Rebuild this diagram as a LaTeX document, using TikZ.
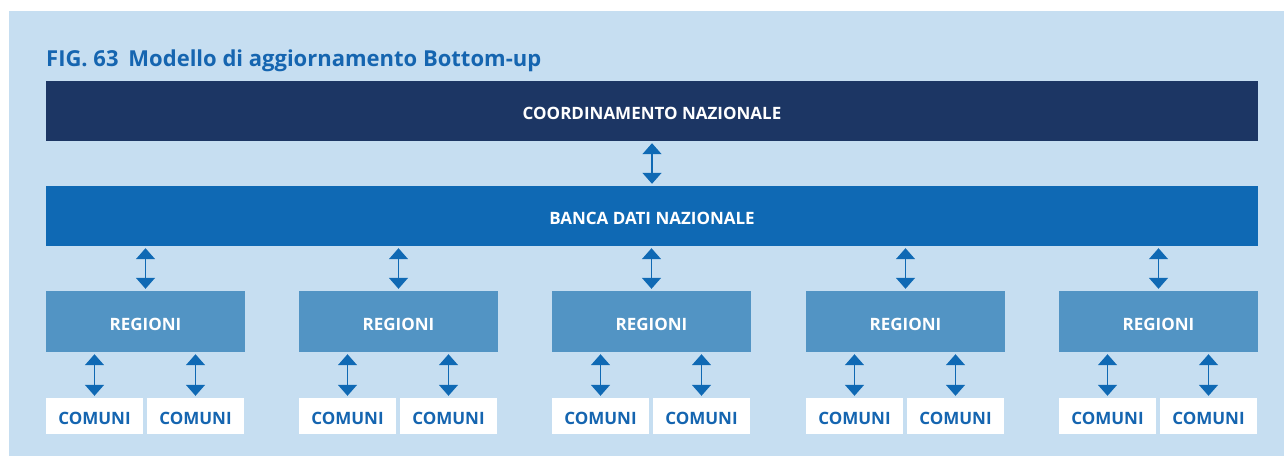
\documentclass[tikz,border=0pt]{standalone}
\usepackage{fontspec}
\setmainfont{Open Sans}
\usepackage{tikz}
\usetikzlibrary{arrows.meta, positioning}
\definecolor{bgblue}{RGB}{198,222,241}
\definecolor{navy}{RGB}{28,54,100}
\definecolor{midblue}{RGB}{15,105,180}
\definecolor{softblue}{RGB}{82,148,196}
\definecolor{titleblue}{RGB}{21,101,176}
\tikzset{
  boxtext/.style={inner sep=0pt, text height=17.5pt, text depth=0pt,
    font=\fontsize{17}{19}\selectfont\bfseries},
  bar/.style={rectangle, boxtext, minimum width=1212pt, minimum height=60pt, text=white},
  region/.style={rectangle, boxtext, fill=softblue, minimum width=199pt,
    minimum height=61pt, text=white},
  town/.style={rectangle, boxtext, fill=white, minimum width=97pt,
    minimum height=36pt, text=titleblue},
  link/.style={{Triangle[width=19pt, length=11pt]}-{Triangle[width=19pt, length=11pt]},
    line width=1.5pt, color=midblue, shorten <=2pt, shorten >=2pt}
}
\begin{document}
\begin{tikzpicture}[x=1pt, y=-1pt]
    \useasboundingbox (0,0) rectangle (1284,456);
    % Background
    \fill[bgblue] (9,11) rectangle (1284,456);

    % Title
    \node[anchor=base west, inner sep=0pt, text=titleblue,
      font=\fontsize{22}{24}\selectfont\bfseries] (title) at (46,66)
      {FIG. 63\hspace{0.45em}Modello di aggiornamento Bottom-up};

    % Coordinamento and banca dati
    \node[bar, fill=navy] (coord) at (652,111) {COORDINAMENTO NAZIONALE};
    \node[bar, fill=midblue] (banca) at (652,216) {BANCA DATI NAZIONALE};
    \draw[link] (coord) -- (banca);

    % Regioni
    \node[region] (reg1) at (145.5,321.5) {REGIONI};
    \node[region] (reg2) at (398.5,321.5) {REGIONI};
    \node[region] (reg3) at (651.5,321.5) {REGIONI};
    \node[region] (reg4) at (905.5,321.5) {REGIONI};
    \node[region] (reg5) at (1158.5,321.5) {REGIONI};
    \draw[link] (banca.south -| reg1) -- (reg1);
    \draw[link] (banca.south -| reg2) -- (reg2);
    \draw[link] (banca.south -| reg3) -- (reg3);
    \draw[link] (banca.south -| reg4) -- (reg4);
    \draw[link] (banca.south -| reg5) -- (reg5);

    % Comuni
    \node[town] (com1a) at (94.5,416) {COMUNI};
    \node[town] (com1b) at (195.5,416) {COMUNI};
    \node[town] (com2a) at (347.5,416) {COMUNI};
    \node[town] (com2b) at (448.5,416) {COMUNI};
    \node[town] (com3a) at (600.5,416) {COMUNI};
    \node[town] (com3b) at (701.5,416) {COMUNI};
    \node[town] (com4a) at (854.5,416) {COMUNI};
    \node[town] (com4b) at (955.5,416) {COMUNI};
    \node[town] (com5a) at (1107.5,416) {COMUNI};
    \node[town] (com5b) at (1208.5,416) {COMUNI};
    \draw[link] (reg1.south -| com1a) -- (com1a);
    \draw[link] (reg1.south -| com1b) -- (com1b);
    \draw[link] (reg2.south -| com2a) -- (com2a);
    \draw[link] (reg2.south -| com2b) -- (com2b);
    \draw[link] (reg3.south -| com3a) -- (com3a);
    \draw[link] (reg3.south -| com3b) -- (com3b);
    \draw[link] (reg4.south -| com4a) -- (com4a);
    \draw[link] (reg4.south -| com4b) -- (com4b);
    \draw[link] (reg5.south -| com5a) -- (com5a);
    \draw[link] (reg5.south -| com5b) -- (com5b);
\end{tikzpicture}
\end{document}
